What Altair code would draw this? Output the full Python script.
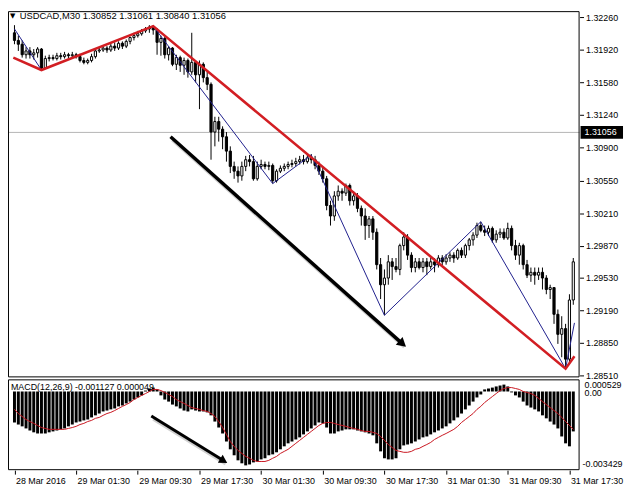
import altair as alt
import pandas as pd

# ---------------- data ----------------
BAR_INDEX = list(range(146))

OPEN = [
    1.3210, 1.3202, 1.3198, 1.3187, 1.3191, 1.3187, 1.3189, 1.3193, 1.3173, 1.3183,
    1.3184, 1.3183, 1.3186, 1.3185, 1.3187, 1.3186, 1.3187, 1.3185, 1.3181, 1.3179,
    1.3181, 1.3185, 1.3191, 1.3192, 1.3194, 1.3192, 1.3196, 1.3194, 1.3199, 1.3196,
    1.3201, 1.3205, 1.3207, 1.3209, 1.3212, 1.3214, 1.3216, 1.3213, 1.3200, 1.3204,
    1.3187, 1.3194, 1.3177, 1.3184, 1.3176, 1.3181, 1.3169, 1.3179, 1.3166, 1.3177,
    1.3163, 1.3156, 1.3106, 1.3117, 1.3109, 1.3101, 1.3086, 1.3070, 1.3065, 1.3060,
    1.3070, 1.3077, 1.3075, 1.3057, 1.3070, 1.3072, 1.3070, 1.3071, 1.3055, 1.3065,
    1.3068, 1.3070, 1.3072, 1.3073, 1.3075, 1.3077, 1.3075, 1.3079, 1.3077, 1.3071,
    1.3065, 1.3057, 1.3029, 1.3018, 1.3039, 1.3044, 1.3042, 1.3050, 1.3034, 1.3039,
    1.3026, 1.3018, 1.3008, 1.3015, 1.3001, 1.2967, 1.2946, 1.2953, 1.2970, 1.2965,
    1.2962, 1.2987, 1.2996, 1.2977, 1.2964, 1.2970, 1.2964, 1.2970, 1.2965, 1.2970,
    1.2967, 1.2974, 1.2970, 1.2974, 1.2977, 1.2974, 1.2982, 1.2977, 1.2987, 1.2993,
    1.2998, 1.3008, 1.3003, 1.3001, 1.3005, 1.2993, 1.2999, 1.3001, 1.2995, 1.3005,
    1.2987, 1.2977, 1.2987, 1.2967, 1.2956, 1.2959, 1.2956, 1.2959, 1.2953, 1.2941,
    1.2943, 1.2915, 1.2894, 1.2900, 1.2868, 1.2930,
]
CLOSE = [
    1.3202, 1.3198, 1.3187, 1.3191, 1.3187, 1.3189, 1.3193, 1.3173, 1.3183, 1.3184,
    1.3183, 1.3186, 1.3185, 1.3187, 1.3186, 1.3187, 1.3185, 1.3181, 1.3179, 1.3181,
    1.3185, 1.3191, 1.3192, 1.3194, 1.3192, 1.3196, 1.3194, 1.3199, 1.3196, 1.3201,
    1.3205, 1.3207, 1.3209, 1.3212, 1.3214, 1.3216, 1.3213, 1.3200, 1.3204, 1.3187,
    1.3194, 1.3177, 1.3184, 1.3176, 1.3181, 1.3169, 1.3179, 1.3166, 1.3177, 1.3163,
    1.3156, 1.3106, 1.3117, 1.3109, 1.3101, 1.3086, 1.3070, 1.3065, 1.3060, 1.3070,
    1.3077, 1.3075, 1.3057, 1.3070, 1.3072, 1.3070, 1.3071, 1.3055, 1.3065, 1.3068,
    1.3070, 1.3072, 1.3073, 1.3075, 1.3077, 1.3075, 1.3079, 1.3077, 1.3071, 1.3065,
    1.3057, 1.3029, 1.3018, 1.3039, 1.3044, 1.3042, 1.3050, 1.3034, 1.3039, 1.3026,
    1.3018, 1.3008, 1.3015, 1.3001, 1.2967, 1.2946, 1.2953, 1.2970, 1.2965, 1.2962,
    1.2987, 1.2996, 1.2977, 1.2964, 1.2970, 1.2964, 1.2970, 1.2965, 1.2970, 1.2967,
    1.2974, 1.2970, 1.2974, 1.2977, 1.2974, 1.2982, 1.2977, 1.2987, 1.2993, 1.2998,
    1.3008, 1.3003, 1.3001, 1.3005, 1.2993, 1.2999, 1.3001, 1.2995, 1.3005, 1.2987,
    1.2977, 1.2987, 1.2967, 1.2956, 1.2959, 1.2956, 1.2959, 1.2953, 1.2941, 1.2943,
    1.2915, 1.2894, 1.2900, 1.2868, 1.2930, 1.2970,
]
HIGH = [
    1.3218, 1.3207, 1.3202, 1.3195, 1.3195, 1.3193, 1.3195, 1.3194, 1.3186, 1.3187,
    1.3187, 1.3189, 1.3189, 1.3190, 1.3189, 1.3190, 1.3189, 1.3188, 1.3184, 1.3183,
    1.3188, 1.3193, 1.3195, 1.3196, 1.3196, 1.3199, 1.3200, 1.3201, 1.3201, 1.3203,
    1.3206, 1.3210, 1.3212, 1.3214, 1.3216, 1.3218, 1.3218, 1.3215, 1.3207, 1.3206,
    1.3196, 1.3195, 1.3187, 1.3186, 1.3184, 1.3183, 1.3210, 1.3181, 1.3181, 1.3179,
    1.3169, 1.3158, 1.3122, 1.3122, 1.3112, 1.3106, 1.3091, 1.3075, 1.3070, 1.3075,
    1.3081, 1.3082, 1.3081, 1.3075, 1.3077, 1.3075, 1.3075, 1.3073, 1.3067, 1.3071,
    1.3073, 1.3075, 1.3077, 1.3079, 1.3081, 1.3082, 1.3083, 1.3083, 1.3081, 1.3075,
    1.3070, 1.3060, 1.3034, 1.3044, 1.3050, 1.3047, 1.3052, 1.3052, 1.3044, 1.3042,
    1.3029, 1.3026, 1.3018, 1.3018, 1.3005, 1.2974, 1.2962, 1.2977, 1.2974, 1.2974,
    1.2989, 1.3001, 1.2999, 1.2980, 1.2974, 1.2974, 1.2974, 1.2974, 1.2974, 1.2974,
    1.2977, 1.2977, 1.2978, 1.2980, 1.2980, 1.2984, 1.2985, 1.2989, 1.2995, 1.3001,
    1.3011, 1.3012, 1.3008, 1.3008, 1.3007, 1.3003, 1.3005, 1.3005, 1.3011, 1.3008,
    1.2993, 1.2990, 1.2989, 1.2972, 1.2964, 1.2964, 1.2964, 1.2964, 1.2956, 1.2946,
    1.2943, 1.2920, 1.2913, 1.2905, 1.2936, 1.2974,
]
LOW = [
    1.3198, 1.3191, 1.3184, 1.3183, 1.3183, 1.3182, 1.3184, 1.3171, 1.3172, 1.3180,
    1.3181, 1.3181, 1.3182, 1.3183, 1.3183, 1.3184, 1.3183, 1.3179, 1.3177, 1.3177,
    1.3179, 1.3183, 1.3189, 1.3190, 1.3189, 1.3190, 1.3191, 1.3192, 1.3193, 1.3194,
    1.3198, 1.3202, 1.3205, 1.3207, 1.3210, 1.3210, 1.3208, 1.3187, 1.3186, 1.3183,
    1.3181, 1.3175, 1.3171, 1.3169, 1.3166, 1.3163, 1.3166, 1.3158, 1.3130, 1.3158,
    1.3150, 1.3077, 1.3091, 1.3096, 1.3088, 1.3075, 1.3063, 1.3057, 1.3053, 1.3055,
    1.3065, 1.3070, 1.3055, 1.3055, 1.3067, 1.3067, 1.3066, 1.3052, 1.3053, 1.3063,
    1.3065, 1.3067, 1.3069, 1.3070, 1.3072, 1.3072, 1.3073, 1.3073, 1.3067, 1.3061,
    1.3053, 1.3024, 1.3008, 1.3013, 1.3034, 1.3034, 1.3039, 1.3029, 1.3029, 1.3022,
    1.3008, 1.2993, 1.2995, 1.2993, 1.2962, 1.2931, 1.2914, 1.2946, 1.2951, 1.2959,
    1.2956, 1.2982, 1.2972, 1.2959, 1.2959, 1.2962, 1.2959, 1.2956, 1.2962, 1.2959,
    1.2964, 1.2966, 1.2967, 1.2970, 1.2969, 1.2972, 1.2974, 1.2974, 1.2982, 1.2987,
    1.2995, 1.3001, 1.2997, 1.2997, 1.2990, 1.2990, 1.2995, 1.2993, 1.2993, 1.2982,
    1.2972, 1.2967, 1.2962, 1.2953, 1.2949, 1.2946, 1.2951, 1.2941, 1.2936, 1.2931,
    1.2905, 1.2884, 1.2870, 1.2858, 1.2863, 1.2925,
]
MACD_HIST = [
    -0.00135, -0.00144, -0.00152, -0.00161, -0.00170, -0.00178, -0.00183, -0.00183, -0.00183, -0.00178,
    -0.00174, -0.00170, -0.00165, -0.00161, -0.00152, -0.00144, -0.00135, -0.00131, -0.00126, -0.00122,
    -0.00113, -0.00104, -0.00096, -0.00087, -0.00083, -0.00078, -0.00074, -0.00065, -0.00061, -0.00052,
    -0.00044, -0.00035, -0.00026, -0.00017, 0.00004, 0.00013, 0.00017, 0.00009, -0.00017, -0.00035,
    -0.00044, -0.00057, -0.00065, -0.00074, -0.00083, -0.00087, -0.00078, -0.00083, -0.00087, -0.00087,
    -0.00091, -0.00104, -0.00131, -0.00157, -0.00183, -0.00218, -0.00252, -0.00278, -0.00300, -0.00313,
    -0.00322, -0.00318, -0.00309, -0.00305, -0.00296, -0.00291, -0.00278, -0.00274, -0.00265, -0.00252,
    -0.00239, -0.00226, -0.00218, -0.00209, -0.00200, -0.00187, -0.00174, -0.00161, -0.00148, -0.00135,
    -0.00139, -0.00157, -0.00183, -0.00183, -0.00174, -0.00170, -0.00165, -0.00165, -0.00165, -0.00170,
    -0.00174, -0.00178, -0.00183, -0.00191, -0.00226, -0.00261, -0.00291, -0.00296, -0.00296, -0.00291,
    -0.00252, -0.00235, -0.00231, -0.00226, -0.00218, -0.00209, -0.00200, -0.00196, -0.00187, -0.00178,
    -0.00170, -0.00161, -0.00152, -0.00139, -0.00126, -0.00113, -0.00096, -0.00078, -0.00061, -0.00044,
    -0.00026, -0.00013, 0.00009, 0.00013, 0.00017, 0.00022, 0.00026, 0.00030, 0.00022, -0.00004,
    -0.00017, -0.00026, -0.00044, -0.00061, -0.00070, -0.00078, -0.00087, -0.00104, -0.00117, -0.00131,
    -0.00144, -0.00161, -0.00196, -0.00226, -0.00239, -0.00174,
]
MACD_SIGNAL = [
    -0.00078, -0.00096, -0.00109, -0.00122, -0.00131, -0.00139, -0.00148, -0.00157, -0.00161, -0.00165,
    -0.00165, -0.00165, -0.00165, -0.00165, -0.00161, -0.00157, -0.00152, -0.00144, -0.00139, -0.00131,
    -0.00126, -0.00117, -0.00113, -0.00104, -0.00096, -0.00091, -0.00083, -0.00074, -0.00065, -0.00057,
    -0.00048, -0.00035, -0.00026, -0.00017, -0.00009, 0.00000, 0.00009, 0.00009, 0.00004, -0.00004,
    -0.00013, -0.00022, -0.00035, -0.00044, -0.00052, -0.00061, -0.00070, -0.00074, -0.00078, -0.00083,
    -0.00087, -0.00096, -0.00109, -0.00131, -0.00157, -0.00187, -0.00218, -0.00239, -0.00257, -0.00270,
    -0.00283, -0.00291, -0.00300, -0.00305, -0.00305, -0.00305, -0.00300, -0.00291, -0.00283, -0.00270,
    -0.00261, -0.00252, -0.00239, -0.00226, -0.00213, -0.00200, -0.00187, -0.00174, -0.00161, -0.00148,
    -0.00139, -0.00135, -0.00135, -0.00139, -0.00144, -0.00148, -0.00152, -0.00157, -0.00161, -0.00165,
    -0.00170, -0.00174, -0.00174, -0.00178, -0.00183, -0.00196, -0.00213, -0.00231, -0.00244, -0.00257,
    -0.00261, -0.00265, -0.00265, -0.00261, -0.00252, -0.00248, -0.00239, -0.00231, -0.00222, -0.00209,
    -0.00200, -0.00191, -0.00183, -0.00174, -0.00165, -0.00152, -0.00135, -0.00122, -0.00109, -0.00096,
    -0.00078, -0.00065, -0.00048, -0.00035, -0.00022, -0.00009, 0.00004, 0.00013, 0.00017, 0.00017,
    0.00013, 0.00009, 0.00000, -0.00004, -0.00009, -0.00017, -0.00030, -0.00044, -0.00057, -0.00070,
    -0.00083, -0.00096, -0.00113, -0.00131, -0.00148, -0.00165,
]

X_TICKS = [0, 16, 32, 48, 64, 80, 96, 112, 128, 144]
X_LABELS = ["28 Mar 2016", "29 Mar 01:30", "29 Mar 09:30", "29 Mar 17:30", "30 Mar 01:30",
            "30 Mar 09:30", "30 Mar 17:30", "31 Mar 01:30", "31 Mar 09:30", "31 Mar 17:30"]
PRICE_TICKS = [1.32260, 1.31920, 1.31580, 1.31240, 1.30900, 1.30550, 1.30210,
               1.29870, 1.29530, 1.29190, 1.28850, 1.28510]
BID = [1.31056]
BID_TEXT = ["1.31056"]
HEADER = ["USDCAD,M30  1.30852 1.31061 1.30840 1.31056"]
MACD_TITLE = ["MACD(12,26,9) -0.001127 0.000049"]
MACD_LABEL_VALUES = [0.000529, 0.0, -0.003429]
MACD_LABEL_TEXT = ["0.000529", "0.00", "-0.003429"]
MACD_LABEL_BASE = ["top", "middle", "bottom"]

TREND_I = [-0.3, 7, 36, 143, 145.3]
TREND_P = [1.3184, 1.3171, 1.3217, 1.2858, 1.2871]
ZIGZAG_I = [0, 7, 36, 67, 77, 96, 121, 143, 145.3]
ZIGZAG_P = [1.3214, 1.3171, 1.3217, 1.3052, 1.3082, 1.2914, 1.3012, 1.2858, 1.2906]
ARROW1_I = [40.5, 100.7]
ARROW1_P = [1.3101, 1.2884]
ARROW2_I = [35.5, 54.3]
ARROW2_V = [-0.00107, -0.00302]

# ---------------- layout / styles ----------------
W, H = 579, 465
H1 = 371
FONT = "Liberation Sans"

candles = pd.DataFrame({"i": BAR_INDEX, "open": OPEN, "high": HIGH, "low": LOW, "close": CLOSE})
macd = pd.DataFrame({"i": BAR_INDEX, "hist": MACD_HIST, "signal": MACD_SIGNAL})
trend = pd.DataFrame({"i": TREND_I, "p": TREND_P})
zigzag = pd.DataFrame({"i": ZIGZAG_I, "p": ZIGZAG_P})
arrow1 = pd.DataFrame({"i": ARROW1_I, "p": ARROW1_P})
arrow2 = pd.DataFrame({"i": ARROW2_I, "v": ARROW2_V})
bid = pd.DataFrame({"p": BID, "t": BID_TEXT})
header = pd.DataFrame({"t": HEADER})
mtitle = pd.DataFrame({"t": MACD_TITLE})
mlabels = pd.DataFrame({"v": MACD_LABEL_VALUES, "t": MACD_LABEL_TEXT, "b": MACD_LABEL_BASE})
one = pd.DataFrame({"a": [0]})

xscale = alt.Scale(domain=[-0.4, 145.35], nice=False, zero=False)
label_expr = "[" + ",".join("'%s'" % s for s in X_LABELS) + "][round(datum.value / 16)]"
xaxis = alt.Axis(values=X_TICKS, labelExpr=label_expr, labelAlign="left", labelBaseline="top",
                 labelPadding=2, labelOffset=1, tickSize=4, domain=False, grid=False, title=None,
                 labelFlush=False, labelOverlap=False)
yP = alt.Scale(domain=[1.28489, 1.32327], range=[H1, 0], nice=False, zero=False)
yM = alt.Scale(domain=[-0.003429, 0.000529], range=[H, H1 + 2], nice=False, zero=False)
paxis = alt.Axis(orient="right", values=PRICE_TICKS, format=".5f", tickSize=4, labelPadding=2,
                 domain=False, grid=False, title=None, labelOverlap=False, labelFlush=False)


def X(field):
    return alt.X(field, scale=xscale, axis=xaxis, title=None)


def YP(field):
    return alt.Y(field, scale=yP, axis=paxis, title=None)


def YM(field):
    return alt.Y(field, scale=yM, axis=None, title=None)


# ---------------- price panel ----------------
bid_line = alt.Chart(bid).mark_rule(color="#b4b4b4", strokeWidth=1).encode(y=YP("p:Q"))
wicks = alt.Chart(candles).mark_rule(color="black", strokeWidth=1).encode(
    x=X("i:Q"), y=YP("low:Q"), y2="high:Q")
bodies = alt.Chart(candles).mark_bar(size=2.2, stroke="black", strokeWidth=1).encode(
    x=X("i:Q"), y=YP("open:Q"), y2="close:Q",
    fill=alt.condition("datum.close > datum.open", alt.value("white"), alt.value("black")))
zig = alt.Chart(zigzag).mark_line(color="#1e1e8c", strokeWidth=1).encode(x=X("i:Q"), y=YP("p:Q"))
tr = alt.Chart(trend).mark_line(color="#d21e23", strokeWidth=2.6).encode(x=X("i:Q"), y=YP("p:Q"))
a1_shadow = alt.Chart(arrow1).mark_line(color="#9a9a9a", strokeWidth=4, opacity=0.45,
                                        xOffset=2, yOffset=3).encode(x=X("i:Q"), y=YP("p:Q"))
a1 = alt.Chart(arrow1).mark_line(color="black", strokeWidth=3.5).encode(x=X("i:Q"), y=YP("p:Q"))
a1_head = alt.Chart(arrow1).transform_filter("datum.i > 100").mark_point(
    shape="triangle-right", filled=True, color="black", opacity=1, size=110, angle=41).encode(
    x=X("i:Q"), y=YP("p:Q"))
bid_box = alt.Chart(bid).mark_tick(orient="horizontal", thickness=13, size=43, color="black",
                                   opacity=1).encode(y=YP("p:Q"), x=alt.value(W + 22.5))
bid_txt = alt.Chart(bid).mark_text(align="left", baseline="middle", color="white", font=FONT,
                                   fontSize=9).encode(y=YP("p:Q"), x=alt.value(W + 5), text="t:N")
head_tri = alt.Chart(header).mark_text(text="\u25bc", font="DejaVu Sans", fontSize=7,
                                       align="left", baseline="middle", color="black").encode(
    x=alt.value(2), y=alt.value(5))
head_txt = alt.Chart(header).mark_text(align="left", baseline="middle", font=FONT, fontSize=9.5,
                                       color="black").encode(x=alt.value(12), y=alt.value(5),
                                                             text="t:N")

price = alt.layer(bid_line, wicks, bodies, zig, tr, a1_shadow, a1, a1_head, bid_box, bid_txt,
                  head_tri, head_txt)

# ---------------- MACD panel ----------------
m_title = alt.Chart(mtitle).mark_text(align="left", baseline="middle", font=FONT, fontSize=9,
                                      color="black").encode(x=alt.value(3), y=alt.value(H1 + 10),
                                                            text="t:N")
m_bars = alt.Chart(macd).mark_bar(size=3, color="black").encode(
    x=X("i:Q"), y=YM("hist:Q"), y2=alt.Y2(datum=0))
m_sig = alt.Chart(macd).mark_line(color="#c8141e", strokeWidth=1).encode(x=X("i:Q"), y=YM("signal:Q"))
a2_shadow = alt.Chart(arrow2).mark_line(color="#9a9a9a", strokeWidth=3.5, opacity=0.45,
                                        xOffset=2, yOffset=3).encode(x=X("i:Q"), y=YM("v:Q"))
a2 = alt.Chart(arrow2).mark_line(color="black", strokeWidth=3).encode(x=X("i:Q"), y=YM("v:Q"))
a2_head = alt.Chart(arrow2).transform_filter("datum.i > 50").mark_point(
    shape="triangle-right", filled=True, color="black", opacity=1, size=90, angle=31).encode(
    x=X("i:Q"), y=YM("v:Q"))
m_lab_top = alt.Chart(mlabels).transform_filter("datum.b == 'top'").mark_text(
    align="left", baseline="top", dy=2, font=FONT, fontSize=9, color="black").encode(
    x=alt.value(W + 5), y=YM("v:Q"), text="t:N")
m_lab_mid = alt.Chart(mlabels).transform_filter("datum.b == 'middle'").mark_text(
    align="left", baseline="middle", dy=2, font=FONT, fontSize=9, color="black").encode(
    x=alt.value(W + 5), y=YM("v:Q"), text="t:N")
m_lab_bot = alt.Chart(mlabels).transform_filter("datum.b == 'bottom'").mark_text(
    align="left", baseline="bottom", dy=-1, font=FONT, fontSize=9, color="black").encode(
    x=alt.value(W + 3), y=YM("v:Q"), text="t:N")

macd_panel = alt.layer(m_title, m_bars, m_sig, a2_shadow, a2, a2_head, m_lab_top, m_lab_mid, m_lab_bot)

# ---------------- frames ----------------
frame_main = alt.Chart(one).mark_rect(fillOpacity=0, stroke="black", strokeWidth=1).encode(
    x=alt.value(0.5), x2=alt.value(W - 0.5), y=alt.value(0.5), y2=alt.value(H1 - 0.5))
frame_macd = alt.Chart(one).mark_rect(fillOpacity=0, stroke="black", strokeWidth=1).encode(
    x=alt.value(0.5), x2=alt.value(W - 0.5), y=alt.value(H1 + 2.5), y2=alt.value(H - 0.5))

chart = alt.layer(price, macd_panel, frame_main, frame_macd).resolve_scale(
    y="independent").properties(
    width=W, height=H,
    autosize=alt.AutoSizeParams(type="none"),
    padding={"left": 0, "top": 0, "right": 45, "bottom": 24},
).configure_view(stroke=None).configure_axis(
    labelFont=FONT, labelFontSize=9, labelColor="black", tickColor="black", tickWidth=1)

chart.save("out.html", embed_options={"renderer": "svg", "actions": False})
